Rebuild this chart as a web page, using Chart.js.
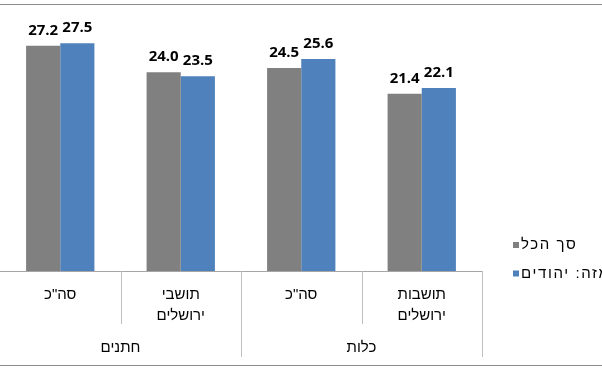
<!DOCTYPE html>
<html>
<head>
<meta charset="utf-8">
<script src="https://cdn.jsdelivr.net/npm/chart.js@4/dist/chart.umd.min.js"></script>
<style>
  html,body{margin:0;padding:0;background:#fff;}
  canvas{display:block;}
</style>
</head>
<body>
<canvas id="c" width="602" height="369"></canvas>
<script>
// data
const categories = ['סה"כ', ['תושבי','ירושלים'], 'סה"כ', ['תושבות','ירושלים']];
const groups = ['חתנים','כלות'];
const groupSizes = [2,2];
const seriesNames = ['סך הכל','מזה: יהודים'];
const totalAll = [27.2, 24.0, 24.5, 21.4];
const totalJews = [27.5, 23.5, 25.6, 22.1];
const colors = ['#808080','#4f81bd'];

const HEB = '"Liberation Sans", "DejaVu Sans", Arial, sans-serif';

/* axis, labels, legend drawn on top of the bars */
const decor = {
  id:'decor',
  afterDatasetsDraw(chart){
    const ctx = chart.ctx, x = chart.scales.x, area = chart.chartArea;
    const n = categories.length, cw = (area.right-area.left)/n;
    ctx.save();

    // frame
    ctx.strokeStyle = '#8c8c8c'; ctx.lineWidth = 1;
    ctx.beginPath();
    ctx.moveTo(0,4.5); ctx.lineTo(chart.width,4.5);
    ctx.moveTo(0,365.5); ctx.lineTo(chart.width,365.5);
    ctx.stroke();

    // baseline
    ctx.strokeStyle = '#a6a6a6';
    ctx.beginPath();
    ctx.moveTo(0,Math.round(area.bottom)+0.5);
    ctx.lineTo(area.right,Math.round(area.bottom)+0.5);
    ctx.stroke();

    // separators
    const groupEdges = []; let acc = 0;
    groupSizes.forEach(s=>{acc+=s; groupEdges.push(acc);});
    ctx.strokeStyle = '#bfbfbf';
    for(let i=1;i<=n;i++){
      const px = Math.round(area.left+i*cw)+0.5;
      const long = groupEdges.includes(i);
      ctx.beginPath();
      ctx.moveTo(px,area.bottom);
      ctx.lineTo(px,long?357:324);
      ctx.stroke();
    }

    // category labels
    ctx.fillStyle = '#000';
    ctx.font = '15px '+HEB;
    ctx.textAlign = 'center'; ctx.textBaseline = 'middle';
    categories.forEach((lab,i)=>{
      const lines = Array.isArray(lab)?lab:[lab];
      const cx = x.getPixelForValue(i);
      lines.forEach((t,j)=>ctx.fillText(t,cx,295+j*21));
    });

    // group labels
    let start = 0;
    groups.forEach((g,k)=>{
      const a = area.left+start*cw, b = area.left+(start+groupSizes[k])*cw;
      ctx.fillText(g,(a+b)/2,348);
      start += groupSizes[k];
    });

    // value labels
    ctx.font = 'bold 15px "Open Sans", "Liberation Sans", sans-serif';
    ctx.textBaseline = 'alphabetic';
    chart.data.datasets.forEach((ds,di)=>{
      chart.getDatasetMeta(di).data.forEach((bar,i)=>{
        ctx.fillText(ds.data[i].toFixed(1),bar.x,bar.y-11);
      });
    });

    // legend
    ctx.font = '15px '+HEB;
    ctx.letterSpacing = '1.6px';
    ctx.textAlign = 'left'; ctx.textBaseline = 'middle';
    seriesNames.forEach((nm,i)=>{
      const y = 245+i*28.5;
      ctx.fillStyle = colors[i];
      ctx.fillRect(513,y-3,6,6);
      ctx.fillStyle = '#000';
      ctx.fillText(nm,521,y);
    });

    ctx.restore();
  }
};

new Chart(document.getElementById('c'),{
  type:'bar',
  data:{
    labels:categories,
    datasets:[
      {label:seriesNames[0],data:totalAll,backgroundColor:colors[0]},
      {label:seriesNames[1],data:totalJews,backgroundColor:colors[1]}
    ]
  },
  options:{
    responsive:false,
    animation:false,
    layout:{padding:{left:0,right:120,top:22.5,bottom:98}},
    datasets:{bar:{categoryPercentage:0.567,barPercentage:1}},
    plugins:{legend:{display:false},tooltip:{enabled:false}},
    scales:{
      x:{display:false},
      y:{display:false,min:0,max:30}
    }
  },
  plugins:[decor]
});
</script>
</body>
</html>
